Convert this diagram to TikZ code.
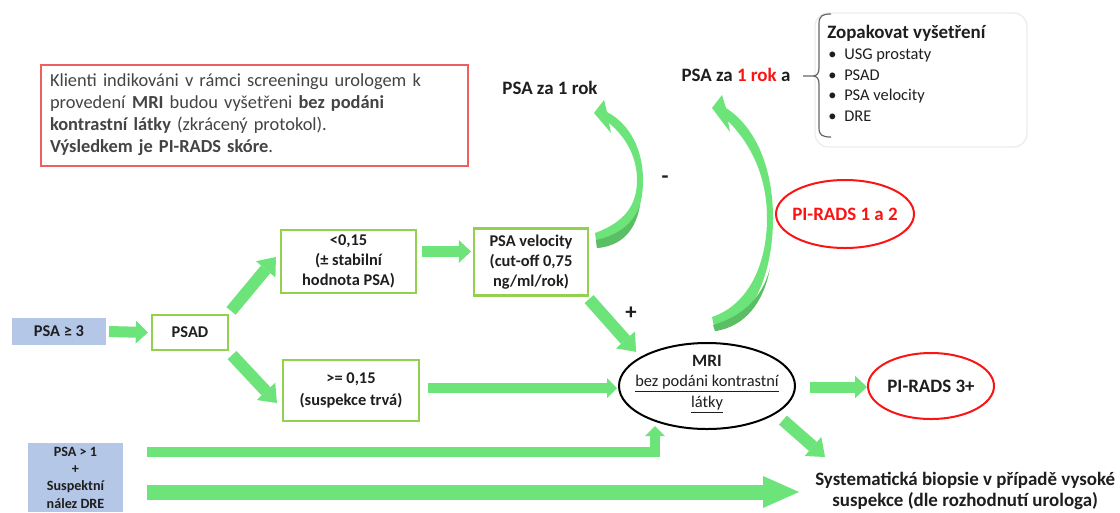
\documentclass[tikz,border=0pt]{standalone}
\usepackage{fontspec}
\setmainfont{Carlito}
\usetikzlibrary{arrows.meta,shapes.geometric,calc}
\definecolor{ag}{RGB}{108,228,122}
\definecolor{agd}{RGB}{92,190,100}
\definecolor{boxg}{RGB}{146,208,80}
\definecolor{bblue}{RGB}{180,199,231}
\definecolor{nred}{RGB}{238,96,96}
\definecolor{ered}{RGB}{250,20,20}
\definecolor{tx}{RGB}{30,30,30}
\definecolor{tgray}{RGB}{68,68,68}
\newcommand\myfs{\fontsize{12.3}{15}\selectfont}
\newcommand\myfb{\fontsize{14.2}{15}\selectfont}
\tikzset{
  gbox/.style={draw=boxg, line width=1.6pt, fill=white, inner sep=0pt, align=center, font=\myfs\bfseries, text=tx},
  arA/.style={draw=ag, line width=8.25pt, -{Triangle[length=9pt,width=17pt,line width=0pt]}},
  arB/.style={draw=ag, line width=9pt, -{Triangle[length=12pt,width=19pt,line width=0pt]}},
  arC/.style={draw=ag, line width=7.8pt, -{Triangle[length=7.5pt,width=15pt,line width=0pt]}},
  arD/.style={draw=ag, line width=11.25pt, -{Triangle[length=27pt,width=24pt,line width=0pt]}},
  redell/.style={ellipse, draw=ered, line width=1.5pt, inner sep=0pt},
  lbl/.style={inner sep=0pt, text=tx},
}
\begin{document}
\begin{tikzpicture}[x=0.75pt,y=-0.75pt]
\useasboundingbox (0,0) rectangle (1120,512);
\clip (0,0) rectangle (1120,512);
\fill[white] (0,0) rectangle (1120,512);

% note box
\node[draw=nred, line width=1.5pt, inner xsep=6.75pt, inner ysep=0pt, text width=306.75pt,
      minimum height=75.75pt, align=left, font=\fontsize{13.8}{16.5}\selectfont, text=tgray]
  (note) at (254.5,115)
  {Klienti indikováni v rámci screeningu urologem k\\
   provedení \textbf{MRI} budou vyšetřeni \textbf{bez podáni}\\
   \textbf{kontrastní látky} (zkrácený protokol).\\
   \textbf{Výsledkem je PI-RADS skóre}.};

% top texts
\node[lbl, font=\myfb\bfseries] (rok1) at (550,88) {PSA za 1 rok};
\node[lbl, font=\myfb\bfseries] (rok1a) at (736,75) {PSA za \textcolor{ered}{1 rok} a};

% list box
\draw[draw=black!7, line width=1pt, rounded corners=10pt] (815,13) rectangle (1027,147);
\draw[black!60, line width=0.9pt] (831,14) .. controls (822,14) and (819,16) .. (819,24)
   -- (819,68) .. controls (819,73) and (817,76) .. (813,76) -- (803,76)
   (813,76) .. controls (817,76) and (819,79) .. (819,84) -- (819,128)
   .. controls (819,135) and (822,137) .. (831,137);
\node[lbl, anchor=west, font=\myfb\bfseries] (zop) at (827,33) {Zopakovat vyšetření};
\node[lbl, anchor=west, font=\myfs] (it1) at (828,55) {\makebox[12pt][l]{•}USG prostaty};
\node[lbl, anchor=west, font=\myfs] (it2) at (828,75) {\makebox[12pt][l]{•}PSAD};
\node[lbl, anchor=west, font=\myfs] (it3) at (828,96) {\makebox[12pt][l]{•}PSA velocity};
\node[lbl, anchor=west, font=\myfs] (it4) at (828,116) {\makebox[12pt][l]{•}DRE};

% boxes
\node[gbox, draw=none, fill=bblue, minimum width=70.5pt, minimum height=20.25pt] (psa3) at (59,331.5) {PSA ≥ 3};
\node[gbox, minimum width=57pt, minimum height=26.25pt] (psad) at (190,332.5) {PSAD};
\node[gbox, minimum width=101.25pt, minimum height=47.25pt] (low) at (348.5,261.5) {<0,15\\(± stabilní\\hodnota PSA)};
\node[gbox, minimum width=85.5pt, minimum height=50.25pt] (vel) at (531,262) {PSA velocity\\(cut-off 0,75\\ng/ml/rok)};
\node[gbox, minimum width=102pt, minimum height=45.75pt, font=\fontsize{12.3}{16.5}\selectfont\bfseries] (high) at (351,390.5) {>= 0,15\\(suspekce trvá)};
\node[gbox, draw=none, fill=bblue, minimum width=71.25pt, minimum height=51.75pt,
      font=\fontsize{10.6}{13}\selectfont\bfseries] (psa1) at (75.5,477.5) {PSA > 1\\+\\Suspektní\\nález DRE};

% ellipses
\node[ellipse, draw=black, line width=1.5pt, inner sep=0pt, minimum width=132pt, minimum height=64.5pt] (mri) at (707,386) {};
\node[lbl, align=center, font=\fontsize{12.3}{15.4}\selectfont] (mritxt) at (707,384)
  {{\fontsize{13}{15.4}\selectfont\bfseries MRI}\\\underline{bez podáni kontrastní}\\\underline{látky}};
\node[redell, minimum width=103.5pt, minimum height=51pt] (pr12) at (845,214) {};
\node[lbl, text=ered, font=\myfb\bfseries] (pr12t) at (845,214) {PI-RADS 1 a 2};
\node[redell, minimum width=94.5pt, minimum height=49.5pt] (pr3) at (931,386) {};
\node[lbl, font=\myfb\bfseries] (pr3t) at (931,386) {PI-RADS 3+};

% signs
\node[lbl, font=\fontsize{17}{17}\selectfont\bfseries] (minus) at (665,180) {-};
\node[lbl, font=\fontsize{17}{17}\selectfont\bfseries] (plus) at (631,313) {+};

% biopsie
\node[lbl, anchor=west, align=center, font=\fontsize{14.2}{15.5}\selectfont\bfseries] (bio) at (815,491)
  {Systematická biopsie v případě vysoké\\suspekce (dle rozhodnutí urologa)};

% straight arrows
\draw[arA] ([shift={(2,0)}]psa3.east) -- ([shift={(-3,0)}]psad.west);
\draw[arB] ([shift={(2,-3)}]psad.north east) -- ([shift={(-4,-4.5)}]low.west);
\draw[arB] ([shift={(3,4)}]psad.south east) -- ([shift={(-5,12.5)}]high.west);
\draw[arA] ([shift={(5,-10)}]low.east) -- ([shift={(-2,-10.5)}]vel.west);
\draw[arC] ([shift={(8,-2.5)}]high.east) -- ([shift={(-1,2)}]mri.west);
\draw[arB] ([shift={(0,2.5)}]vel.south east) -- ([shift={(-8,-3)}]mri.north west);
\draw[arA] ([shift={(14,1)}]mri.east) -- ([shift={(0,1)}]pr3.west);
\draw[arB] ([shift={(13,3)}]mri.south east) -- ([shift={(10,-34)}]bio.west);
\draw[arC] ([shift={(23,-25.5)}]psa1.east) -| ([shift={(-52,-4)}]mri.south);
\draw[arD] ([shift={(23,14.5)}]psa1.east) -- ([shift={(-16,1)}]bio.west);

% curved arrow 1 (PSA velocity -> PSA za 1 rok)
\fill[ag] (595,233) .. controls (625,222) and (637,205) .. (637,180)
   .. controls (637,158) and (627,138) .. (609,123) -- (611,133) -- (594,113) -- (604,100) -- (607,112)
   .. controls (630,124) and (643,150) .. (643,180)
   .. controls (643,215) and (627,245) .. (597,248) -- cycle;
\fill[agd] (596,240) .. controls (620,235) and (634,222) .. (640,205)
   .. controls (636,230) and (622,246) .. (597,248) -- cycle;

% curved arrow 2 (MRI -> PSA za 1 rok a)
\fill[ag] (712,317) .. controls (748,305) and (767,265) .. (767,218)
   .. controls (767,178) and (752,145) .. (728,121) -- (730,132) -- (712,108) -- (722,95) -- (726,108)
   .. controls (757,128) and (773,170) .. (773,218)
   .. controls (773,280) and (748,327) .. (715,331) -- cycle;
\fill[agd] (713,325) .. controls (744,316) and (763,296) .. (770,268)
   .. controls (764,302) and (745,327) .. (715,331) -- cycle;
\end{tikzpicture}
\end{document}
